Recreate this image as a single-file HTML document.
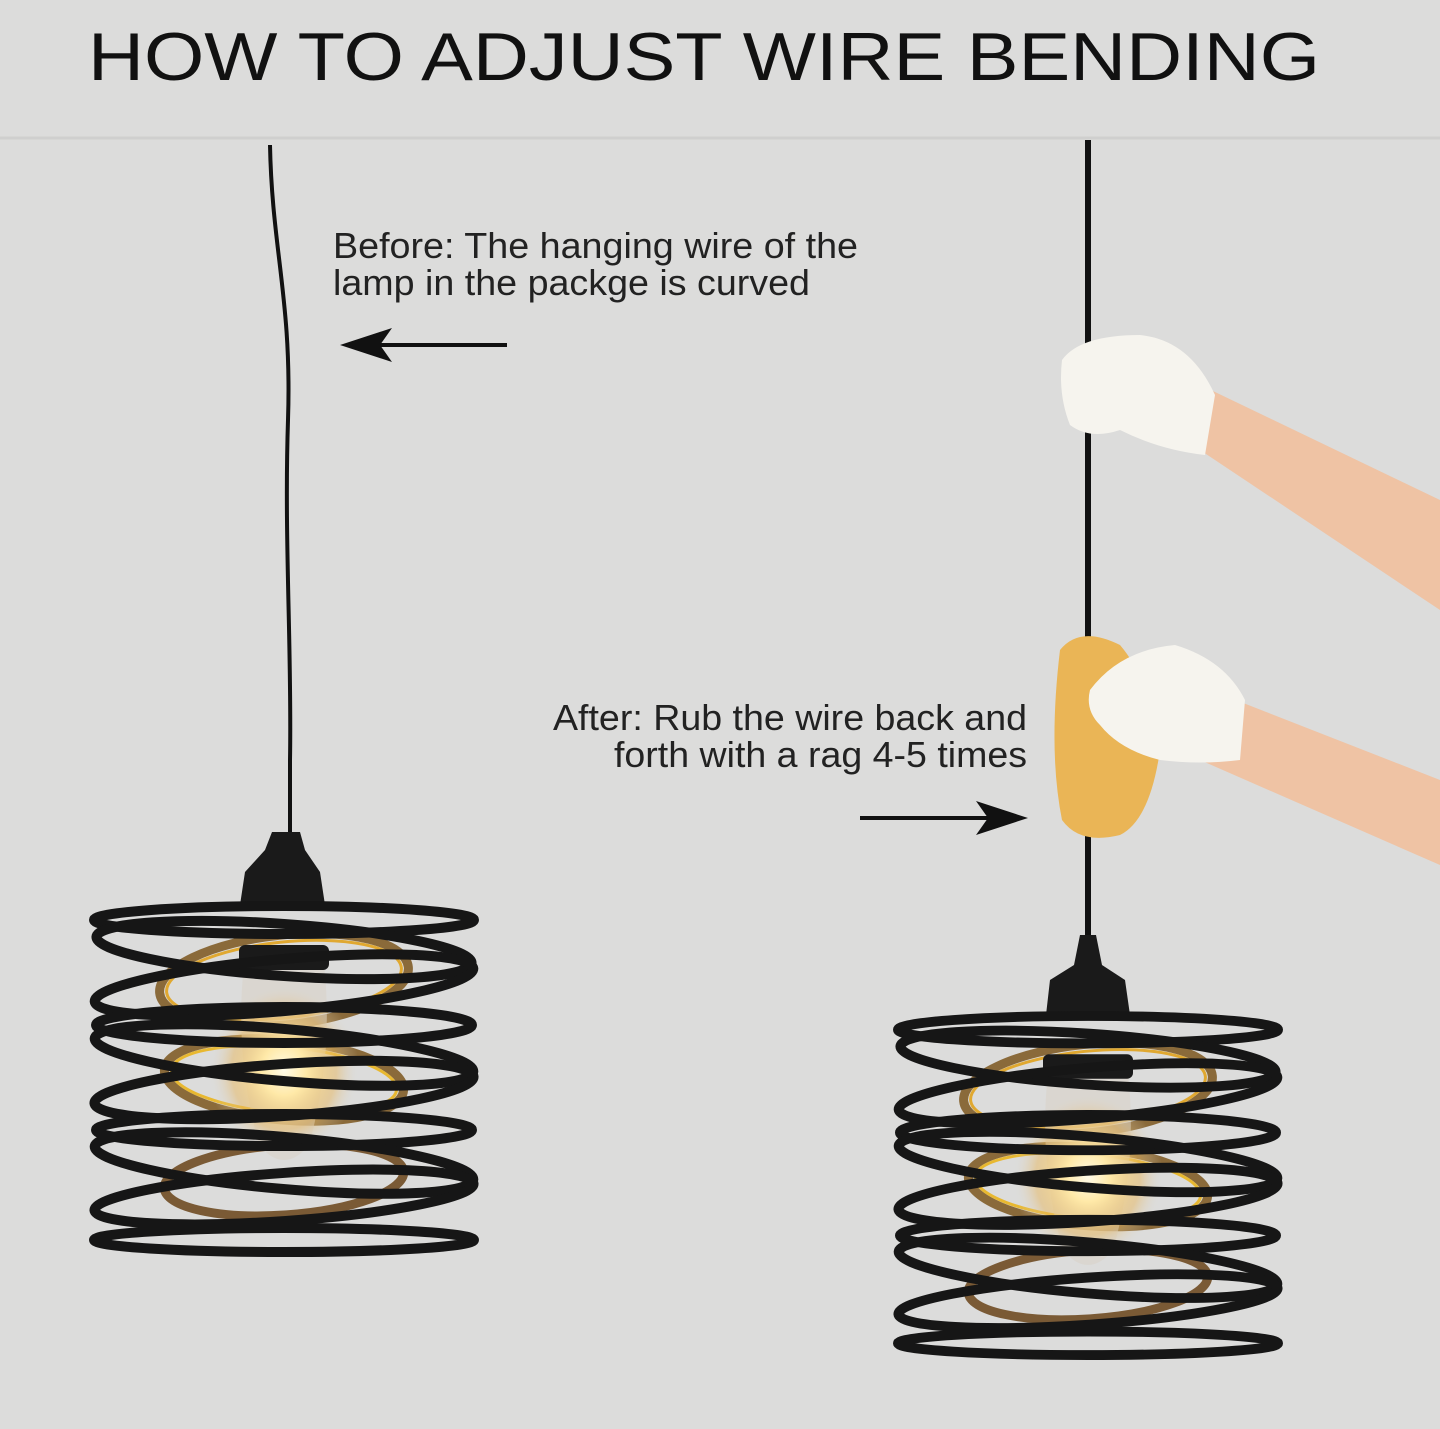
<!DOCTYPE html>
<html><head><meta charset="utf-8"><style>
html,body{margin:0;padding:0;background:#dcdcdb;}
svg{display:block;}
</style></head><body>
<svg width="1440" height="1429" viewBox="0 0 1440 1429" xmlns="http://www.w3.org/2000/svg">
<defs>
<radialGradient id="glow" cx="0.5" cy="0.5" r="0.5">
<stop offset="0" stop-color="#fffbe8"/><stop offset="0.3" stop-color="#ffe9a8"/><stop offset="0.7" stop-color="#e8b860" stop-opacity="0.5"/><stop offset="1" stop-color="#dcdcdb" stop-opacity="0"/>
</radialGradient>
<g id="lamp">
  <ellipse cx="0" cy="75" rx="125" ry="45" fill="none" stroke="#8a6a3a" stroke-width="9" transform="rotate(-6 0 75)"/>
  <ellipse cx="0" cy="75" rx="118" ry="38" fill="none" stroke="#e0a830" stroke-width="3" transform="rotate(-6 0 75)"/>
  <ellipse cx="0" cy="175" rx="120" ry="40" fill="none" stroke="#8a6a3a" stroke-width="9" transform="rotate(5 0 175)"/>
  <ellipse cx="0" cy="175" rx="113" ry="33" fill="none" stroke="#e8b830" stroke-width="3" transform="rotate(5 0 175)"/>
  <ellipse cx="0" cy="275" rx="120" ry="35" fill="none" stroke="#7a5a35" stroke-width="9" transform="rotate(-4 0 275)"/>
  <path d="M-40 60 Q-50 150 -25 240 Q0 270 25 240 Q50 150 40 60 Z" fill="#d8d2c8" opacity="0.6"/>
  <ellipse cx="0" cy="165" rx="75" ry="85" fill="url(#glow)"/>
  <rect x="-45" y="40" width="90" height="25" rx="6" fill="#1a1a1a"/>
  <g fill="none" stroke="#161616" stroke-width="10">
    <ellipse cx="0" cy="15" rx="190" ry="14"/>
    <ellipse cx="0" cy="45" rx="188" ry="26" transform="rotate(4 0 45)"/>
    <ellipse cx="0" cy="80" rx="190" ry="26" transform="rotate(-5 0 80)"/>
    <ellipse cx="0" cy="120" rx="188" ry="18"/>
    <ellipse cx="0" cy="150" rx="190" ry="26" transform="rotate(5 0 150)"/>
    <ellipse cx="0" cy="185" rx="190" ry="26" transform="rotate(-4 0 185)"/>
    <ellipse cx="0" cy="225" rx="188" ry="16"/>
    <ellipse cx="0" cy="258" rx="190" ry="26" transform="rotate(5 0 258)"/>
    <ellipse cx="0" cy="292" rx="190" ry="24" transform="rotate(-4 0 292)"/>
    <ellipse cx="0" cy="335" rx="190" ry="12"/>
  </g>
</g>
</defs>

<rect x="0" y="0" width="1440" height="1429" fill="#dcdcdb"/>
<line x1="0" y1="138" x2="1440" y2="138" stroke="#cfcfce" stroke-width="3"/>

<text x="88" y="80" font-family="Liberation Sans, sans-serif" font-size="68" fill="#111" textLength="1232" lengthAdjust="spacingAndGlyphs">HOW TO ADJUST WIRE BENDING</text>

<path d="M270 145 C272 250 292 300 288 420 C284 540 292 650 290 760 L290 835" fill="none" stroke="#111" stroke-width="4"/>
<line x1="1088" y1="140" x2="1088" y2="945" stroke="#111" stroke-width="6"/>

<g font-family="Liberation Sans, sans-serif" font-size="36" fill="#222">
<text x="333" y="258" textLength="525" lengthAdjust="spacingAndGlyphs">Before: The hanging wire of the</text>
<text x="333" y="295" textLength="477" lengthAdjust="spacingAndGlyphs">lamp in the packge is curved</text>
<text x="553" y="730" textLength="474" lengthAdjust="spacingAndGlyphs">After: Rub the wire back and</text>
<text x="614" y="767" textLength="413" lengthAdjust="spacingAndGlyphs">forth with a rag 4-5 times</text>
</g>
<line x1="507" y1="345" x2="360" y2="345" stroke="#111" stroke-width="4"/>
<path d="M340 345 L392 328 L380 345 L392 362 Z" fill="#111"/>
<line x1="860" y1="818" x2="1005" y2="818" stroke="#111" stroke-width="4"/>
<path d="M1028 818 L976 801 L988 818 L976 835 Z" fill="#111"/>

<path d="M1190 380 L1440 500 L1440 610 L1200 450 Z" fill="#efc3a4"/>
<path d="M1210 690 L1440 780 L1440 865 L1200 760 Z" fill="#efc3a4"/>
<path d="M1062 360 Q1080 335 1140 335 Q1190 340 1215 395 L1205 455 Q1160 450 1120 430 Q1090 440 1070 425 Q1058 395 1062 360 Z" fill="#f6f4ee"/>
<path d="M1060 650 Q1080 625 1120 645 Q1150 680 1160 750 Q1150 820 1120 835 Q1080 845 1062 820 Q1048 750 1060 650 Z" fill="#eab556"/>
<path d="M1090 690 Q1120 650 1175 645 Q1225 660 1245 700 L1240 760 Q1200 765 1160 760 Q1120 750 1100 725 Q1085 710 1090 690 Z" fill="#f6f4ee"/>

<path d="M272 832 L300 832 L305 850 L320 872 L325 905 L240 905 L245 872 L265 850 Z" fill="#1a1a1a"/>
<use href="#lamp" transform="translate(284 905)"/>
<path d="M1080 935 L1096 935 L1102 965 L1125 980 L1130 1015 L1046 1015 L1050 980 L1074 965 Z" fill="#1a1a1a"/>
<use href="#lamp" transform="translate(1088 1015) scale(1 0.98)"/>
</svg>
</body></html>
